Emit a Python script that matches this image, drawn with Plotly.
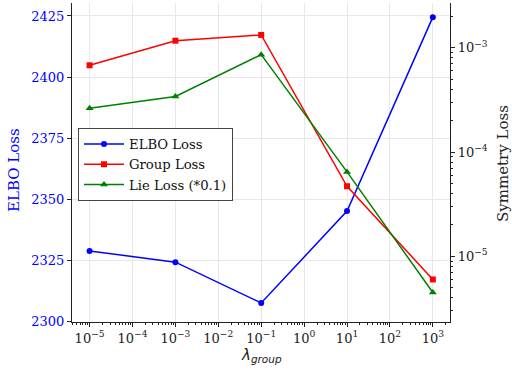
import plotly.graph_objects as go

lambdas = [1e-5, 1e-3, 1e-1, 1e1, 1e3]
elbo_loss = [2328.8, 2324.2, 2307.5, 2345.1, 2424.5]
group_loss = [6.8e-4, 1.17e-3, 1.33e-3, 4.7e-5, 6.0e-6]
lie_loss = [2.63e-4, 3.41e-4, 8.6e-4, 6.45e-5, 4.5e-6]

x_tickvals = [1e-5, 1e-4, 1e-3, 1e-2, 1e-1, 1e0, 1e1, 1e2, 1e3]
x_ticktext = ["10<sup>−5</sup>", "10<sup>−4</sup>", "10<sup>−3</sup>", "10<sup>−2</sup>",
              "10<sup>−1</sup>", "10<sup>0</sup>", "10<sup>1</sup>", "10<sup>2</sup>", "10<sup>3</sup>"]
y_left_ticks = [2300, 2325, 2350, 2375, 2400, 2425]
y_right_ticks = [1e-5, 1e-4, 1e-3]
y_right_text = ["10<sup>−5</sup>", "10<sup>−4</sup>", "10<sup>−3</sup>"]

x_minor = [m * 10.0 ** k for k in range(-6, 4) for m in range(2, 10)]
y_minor = [m * 10.0 ** k for k in range(-6, -2) for m in range(2, 10)]

font_serif = "DejaVu Serif"
W, H = 512, 370
ML, MR, MT, MB = 72, 62, 3, 48
PW, PH = W - ML - MR, H - MT - MB

def px(x):
    return (x - ML) / PW

def py(y):
    return (H - MB - y) / PH

fig = go.Figure()
fig.add_trace(go.Scatter(x=lambdas, y=elbo_loss, name="ELBO Loss", mode="lines+markers",
                         line=dict(color="blue", width=1.5),
                         marker=dict(symbol="circle", size=6, color="blue")))
fig.add_trace(go.Scatter(x=lambdas, y=group_loss, name="Group Loss", mode="lines+markers",
                         yaxis="y2", line=dict(color="red", width=1.5),
                         marker=dict(symbol="square", size=6, color="red")))
fig.add_trace(go.Scatter(x=lambdas, y=lie_loss, name="Lie Loss (*0.1)", mode="lines+markers",
                         yaxis="y2", line=dict(color="green", width=1.5),
                         marker=dict(symbol="triangle-up", size=7, color="green")))

fig.update_layout(
    width=W, height=H,
    margin=dict(l=ML, r=MR, t=MT, b=MB, autoexpand=False),
    plot_bgcolor="white", paper_bgcolor="white",
    font=dict(family=font_serif, size=13, color="#222"),
    showlegend=True,
    legend=dict(x=px(78), y=py(128), xanchor="left", yanchor="top",
                bgcolor="white", bordercolor="#444", borderwidth=1,
                font=dict(family=font_serif, size=13.2, color="#111"),
                tracegroupgap=0, itemwidth=40),
    xaxis=dict(type="log", range=[-5.41, 3.40], automargin=False,
               tickvals=x_tickvals, ticktext=x_ticktext,
               ticks="outside", ticklen=4, tickcolor="#222",
               showline=True, linecolor="#222", linewidth=1.2, mirror=False,
               showgrid=True, gridcolor="#e8e8e8", gridwidth=1,
               minor=dict(tickvals=x_minor, ticks="outside", ticklen=2, tickcolor="#222", showgrid=False),
               tickfont=dict(family=font_serif, size=13, color="#222"),
               zeroline=False),
    yaxis=dict(range=[2299.7, 2430.3], tickvals=y_left_ticks, automargin=False,
               ticks="outside", ticklen=4, tickcolor="#222",
               showline=True, linecolor="#222", linewidth=1.2,
               showgrid=True, gridcolor="#e8e8e8", gridwidth=1,
               tickfont=dict(family=font_serif, size=13, color="blue"),
               zeroline=False),
    yaxis2=dict(type="log", range=[-5.63, -2.57], overlaying="y", side="right", automargin=False,
                tickvals=y_right_ticks, ticktext=y_right_text,
                ticks="outside", ticklen=4, tickcolor="#222",
                showline=True, linecolor="#222", linewidth=1.2,
                showgrid=False,
                minor=dict(tickvals=y_minor, ticks="outside", ticklen=2, tickcolor="#222", showgrid=False),
                tickfont=dict(family=font_serif, size=13, color="#222"),
                zeroline=False),
    annotations=[
        dict(text="ELBO Loss", x=px(14), y=py(170), xref="paper", yref="paper",
             textangle=-90, showarrow=False, xanchor="center", yanchor="middle",
             font=dict(family=font_serif, size=15, color="blue")),
        dict(text="Symmetry Loss", x=px(503), y=py(164), xref="paper", yref="paper",
             textangle=-90, showarrow=False, xanchor="center", yanchor="middle",
             font=dict(family=font_serif, size=15, color="#222")),
        dict(text="<i>λ</i><sub><i>group</i></sub>", x=px(261), y=py(355), xref="paper", yref="paper",
             showarrow=False, xanchor="center", yanchor="middle",
             font=dict(family="DejaVu Sans", size=15, color="#222")),
    ],
)

fig.write_html("out.html", config={"displayModeBar": False},
               post_script="document.body.style.margin='0';")
